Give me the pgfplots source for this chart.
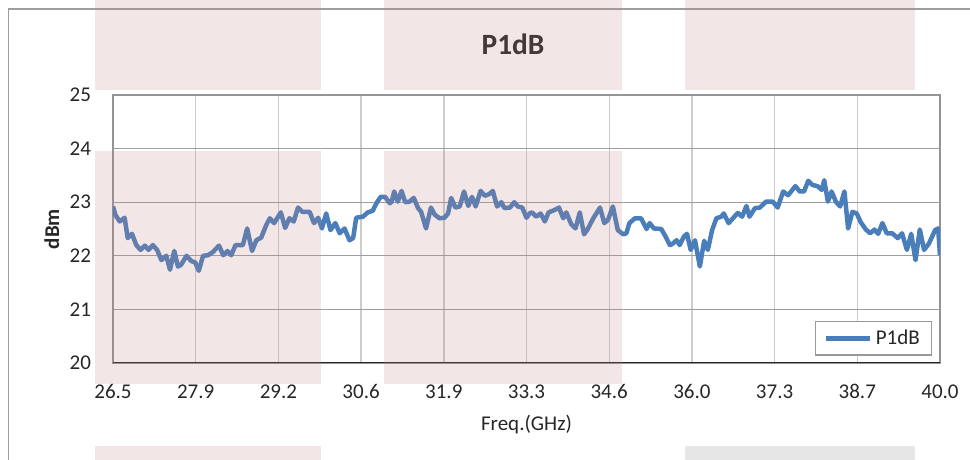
\documentclass[border=0pt]{standalone}
\usepackage{fontspec}
\setmainfont{Carlito}
\usepackage{pgfplots}
\pgfplotsset{compat=1.18}
\usepackage{pgfplotstable}
\definecolor{lineblue}{RGB}{74,126,187}
\definecolor{pinkov}{RGB}{190,130,130}
\definecolor{greyov}{RGB}{130,130,130}
\definecolor{txt}{RGB}{38,38,38}
\pgfplotstableread{
x y
26.50 22.92
26.54 22.76
26.61 22.64
26.69 22.71
26.74 22.33
26.81 22.41
26.88 22.20
26.95 22.11
27.02 22.19
27.08 22.11
27.15 22.20
27.22 22.11
27.29 21.92
27.37 22.00
27.43 21.74
27.50 22.09
27.56 21.80
27.61 21.83
27.70 22.00
27.78 21.90
27.84 21.88
27.90 21.72
27.97 22.00
28.05 22.01
28.13 22.07
28.23 22.19
28.30 22.01
28.37 22.09
28.43 22.01
28.50 22.20
28.62 22.20
28.69 22.51
28.77 22.09
28.84 22.29
28.92 22.34
29.00 22.57
29.06 22.70
29.13 22.61
29.24 22.81
29.31 22.52
29.38 22.70
29.45 22.64
29.52 22.90
29.59 22.82
29.71 22.82
29.78 22.61
29.85 22.71
29.91 22.51
29.98 22.79
30.05 22.48
30.13 22.61
30.20 22.42
30.28 22.51
30.36 22.29
30.42 22.33
30.47 22.71
30.58 22.73
30.66 22.81
30.74 22.84
30.80 22.98
30.87 23.10
30.94 23.10
31.02 22.98
31.05 23.01
31.09 23.20
31.15 23.01
31.21 23.21
31.27 23.00
31.34 23.01
31.41 23.08
31.48 22.89
31.53 22.82
31.61 22.51
31.69 22.90
31.75 22.77
31.83 22.70
31.91 22.71
31.97 22.79
32.02 23.08
32.09 22.90
32.16 22.92
32.23 23.20
32.30 22.93
32.36 23.10
32.42 22.92
32.50 23.21
32.57 23.12
32.64 23.15
32.70 23.21
32.77 22.92
32.84 23.00
32.89 22.89
32.98 22.90
33.05 23.00
33.11 22.92
33.18 22.90
33.25 22.71
33.30 22.79
33.34 22.81
33.41 22.73
33.48 22.79
33.55 22.64
33.61 22.81
33.70 22.85
33.78 22.90
33.85 22.70
33.90 22.81
33.98 22.59
34.05 22.51
34.12 22.81
34.19 22.40
34.25 22.50
34.34 22.70
34.45 22.90
34.52 22.61
34.58 22.67
34.66 22.92
34.74 22.48
34.83 22.40
34.88 22.42
34.93 22.61
35.02 22.70
35.12 22.70
35.21 22.50
35.26 22.61
35.33 22.51
35.45 22.50
35.52 22.36
35.59 22.20
35.63 22.22
35.70 22.29
35.75 22.20
35.82 22.36
35.87 22.41
35.93 22.11
36.00 22.29
36.08 21.80
36.15 22.28
36.21 22.11
36.28 22.48
36.35 22.70
36.43 22.73
36.47 22.79
36.55 22.61
36.62 22.70
36.70 22.80
36.77 22.73
36.84 22.93
36.89 22.73
36.98 22.89
37.06 22.90
37.16 23.01
37.27 23.01
37.35 22.90
37.44 23.20
37.52 23.13
37.64 23.30
37.71 23.20
37.78 23.20
37.85 23.40
37.92 23.32
38.00 23.30
38.07 23.23
38.11 23.41
38.17 23.01
38.23 23.20
38.30 23.01
38.37 22.92
38.44 23.20
38.50 22.51
38.57 22.82
38.64 22.79
38.71 22.62
38.79 22.49
38.86 22.42
38.93 22.49
38.99 22.41
39.06 22.61
39.13 22.42
39.22 22.42
39.31 22.33
39.38 22.42
39.46 22.11
39.53 22.41
39.60 21.92
39.67 22.49
39.74 22.11
39.82 22.23
39.92 22.48
39.97 22.51
40.00 22.01
}\pdata
\begin{document}
\begin{tikzpicture}
\path[use as bounding box] (-56.5pt,-48.5pt) rectangle (428.5pt,181.5pt);
\draw[color=black!38, line width=0.6pt] (-52.35pt,-48.5pt) -- (-52.35pt,177pt) -- (428.5pt,177pt);
\begin{axis}[
  at={(0pt,0pt)}, anchor=south west,
  scale only axis, width=413.5pt, height=134pt,
  xmin=26.5, xmax=40, ymin=20, ymax=25,
  xtick={26.5,27.85,29.2,30.55,31.9,33.25,34.6,35.95,37.3,38.65,40},
  xticklabels={26.5,27.9,29.2,30.6,31.9,33.3,34.6,36.0,37.3,38.7,40.0},
  ytick={20,21,22,23,24,25},
  major tick length=0pt,
  /pgf/number format/assume math mode=true,
  tick label style={font=\fontsize{10.5}{12}\selectfont, text=txt},
  xticklabel style={anchor=center, inner sep=0pt, yshift=-14.35pt},
  yticklabel style={anchor=east, inner sep=0pt, xshift=-10.8pt},
  xmajorgrids=true, ymajorgrids=true,
  every axis x grid/.append style={draw=black!20, line width=0.7pt},
  every axis y grid/.append style={draw=black!38, line width=0.7pt},
  axis line style={draw=black!42, line width=0.6pt},
  title={P1dB},
  title style={at={(0.4837,1.1429)}, anchor=center, inner sep=0pt, font=\bfseries\fontsize{14.7}{16}\selectfont, text=black!85},
  xlabel={Freq.(GHz)},
  xlabel style={at={(0.5,-0.2313)}, anchor=center, inner sep=0pt, font=\fontsize{10.5}{12}\selectfont, text=txt},
  ylabel={dBm},
  ylabel style={at={(-0.074,0.5)}, anchor=center, inner sep=0pt, font=\bfseries\fontsize{10.5}{12}\selectfont, text=txt},
  legend style={at={(1,0)}, anchor=south east, xshift=-3.85pt, yshift=3.65pt,
    draw=black!40, line width=0.6pt, inner xsep=4pt, inner ysep=2pt,
    font=\fontsize{10.5}{12}\selectfont, text=txt,
    /tikz/every even column/.append style={column sep=2pt}},
  legend image code/.code={\draw[#1, line width=2.25pt] (0pt,0pt) -- (21.7pt,0pt);},
]
\addplot[lineblue, line width=2.25pt, line join=round] table[x=x,y=y]{\pdata};
\addlegendentry{P1dB}
\draw[black!85, line width=0.7pt] (rel axis cs:0,0) -- (rel axis cs:1,0);
\end{axis}
\fill[pinkov, fill opacity=0.2] (-9pt,136.5pt) rectangle (104pt,181.5pt);
\fill[pinkov, fill opacity=0.2] (-9pt,-10.5pt) rectangle (104pt,106pt);
\fill[pinkov, fill opacity=0.2] (-9pt,-48.5pt) rectangle (104pt,-41.5pt);
\fill[pinkov, fill opacity=0.2] (135.5pt,136.5pt) rectangle (254.5pt,181.5pt);
\fill[pinkov, fill opacity=0.2] (135.5pt,-10.5pt) rectangle (254.5pt,106pt);
\fill[pinkov, fill opacity=0.2] (286pt,136.5pt) rectangle (401pt,181.5pt);
\fill[greyov, fill opacity=0.2] (286pt,-48.5pt) rectangle (401pt,-41.5pt);
\end{tikzpicture}
\end{document}
